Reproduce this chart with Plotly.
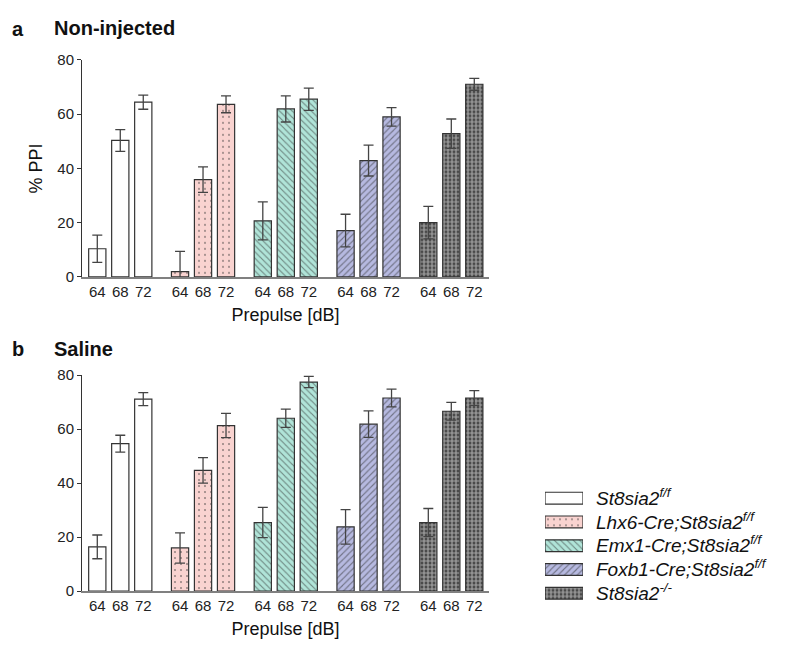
import plotly.graph_objects as go

# ---------------- data ----------------
genotypes = [
    "<i>St8sia2<sup>f/f</sup></i>",
    "<i>Lhx6-Cre;St8sia2<sup>f/f</sup></i>",
    "<i>Emx1-Cre;St8sia2<sup>f/f</sup></i>",
    "<i>Foxb1-Cre;St8sia2<sup>f/f</sup></i>",
    "<i>St8sia2<sup>-/-</sup></i>",
]
prepulse_db = ["64", "68", "72"]

noninjected_mean = [
    [10.4, 50.3, 64.4],
    [2.0, 35.9, 63.6],
    [20.7, 61.9, 65.5],
    [17.1, 42.9, 59.0],
    [20.0, 52.8, 71.0],
]
noninjected_sem = [
    [5.0, 4.0, 2.6],
    [7.4, 4.7, 3.1],
    [7.0, 4.8, 4.1],
    [6.0, 5.7, 3.4],
    [6.0, 5.4, 2.2],
]
saline_mean = [
    [16.4, 54.6, 71.1],
    [16.0, 44.7, 61.3],
    [25.4, 64.0, 77.4],
    [23.8, 61.8, 71.5],
    [25.4, 66.6, 71.5],
]
saline_sem = [
    [4.4, 3.1, 2.4],
    [5.6, 4.7, 4.5],
    [5.6, 3.4, 2.1],
    [6.4, 4.9, 3.3],
    [5.2, 3.3, 2.7],
]
y_ticks = [0, 20, 40, 60, 80]

# ---------------- styles ----------------
FONT = "Liberation Sans, Arial, sans-serif"
fills = ["#ffffff", "#f9d3d0", "#b0e4d8", "#b6b9e0", "#4a4a4a"]
patterns = [
    dict(shape=""),
    dict(shape=".", fgcolor="#333333", bgcolor="#f9d3d0", size=6, solidity=0.1),
    dict(shape="\\", fgcolor="#2a2a2a", bgcolor="#b0e4d8", size=4.5, solidity=0.25),
    dict(shape="/", fgcolor="#2a2a2a", bgcolor="#b6b9e0", size=4.5, solidity=0.25),
    dict(shape="+", fgcolor="#ffffff", bgcolor="#4a4a4a", size=4, solidity=0.5),
]
GROUP_STEP = 3.6
BAR_W = 0.75

# page is offset by the 8px body margin
OFF = 8
W, H = 787 - OFF, 654 - OFF
def px(xp):
    return (xp - OFF) / W
def py(yp):
    return 1 - (yp - OFF) / H


def make_marker(g):
    return dict(color=fills[g], line=dict(color="#333333", width=1.2), pattern=patterns[g])


fig = go.Figure()

panels = [
    (noninjected_mean, noninjected_sem, "x", "y"),
    (saline_mean, saline_sem, "x2", "y2"),
]
for means, sems, xa, ya in panels:
    for g, name in enumerate(genotypes):
        xs = [g * GROUP_STEP + i for i in range(len(prepulse_db))]
        fig.add_trace(go.Bar(
            x=xs, y=means[g], width=BAR_W,
            name=name, showlegend=False,
            xaxis=xa, yaxis=ya,
            marker=make_marker(g),
            error_y=dict(type="data", array=sems[g], visible=True,
                         color="#444444", thickness=1.3, width=5),
        ))

# legend drawn as swatches on a helper axis
for g, name in enumerate(genotypes):
    fig.add_trace(go.Bar(
        x=[1], y=[name], orientation="h", width=0.5, showlegend=False,
        xaxis="x3", yaxis="y3", marker=make_marker(g), hoverinfo="skip",
    ))

tickvals = [g * GROUP_STEP + i for g in range(len(genotypes)) for i in range(len(prepulse_db))]
ticktext = [prepulse_db[i] for g in range(len(genotypes)) for i in range(len(prepulse_db))]

x_dom = [px(82), px(489)]
top_dom = [py(275), py(52)]
bot_dom = [py(597.7), py(375.7)]

xaxis_common = dict(
    range=[-0.665, 17.04], tickvals=tickvals, ticktext=ticktext,
    showline=True, linecolor="#808080", linewidth=2, ticks="",
    showgrid=False, zeroline=False, tickfont=dict(size=15, color="#222222", family=FONT),
    title=dict(text="Prepulse [dB]", font=dict(size=18, color="#111111", family=FONT), standoff=9),
    domain=x_dom,
)
yaxis_common = dict(
    range=[0, 80], tickvals=y_ticks, showline=True, linecolor="#333333", linewidth=1,
    ticks="outside", ticklen=4, tickcolor="#333333", showgrid=False, zeroline=False,
    tickfont=dict(size=15, color="#222222", family=FONT),
)

fig.update_layout(
    width=W, height=H,
    margin=dict(l=0, r=0, t=0, b=0),
    paper_bgcolor="white", plot_bgcolor="white",
    font=dict(family=FONT, color="#111111"),
    barmode="overlay",
    showlegend=False,
    xaxis=dict(xaxis_common, anchor="y"),
    yaxis=dict(yaxis_common, domain=top_dom, anchor="x",
               title=dict(text="% PPI", font=dict(size=18, color="#111111", family=FONT), standoff=10)),
    xaxis2=dict(xaxis_common, anchor="y2"),
    yaxis2=dict(yaxis_common, domain=bot_dom, anchor="x2"),
    xaxis3=dict(domain=[px(545), px(583)], range=[0, 1], visible=False, anchor="y3",
                fixedrange=True),
    yaxis3=dict(domain=[py(612), py(490)], anchor="x3", side="right", type="category",
                autorange="reversed", showline=False, showgrid=False, zeroline=False,
                ticks="", ticklabelstandoff=12,
                tickfont=dict(size=19, color="#111111", family=FONT), fixedrange=True),
    annotations=[
        dict(text="<b>a</b>", x=px(10), y=py(20), xref="paper", yref="paper",
             xanchor="left", yanchor="middle", showarrow=False, font=dict(size=20, family=FONT)),
        dict(text="<b>Non-injected</b>", x=px(52), y=py(19), xref="paper", yref="paper",
             xanchor="left", yanchor="middle", showarrow=False, font=dict(size=20, family=FONT)),
        dict(text="<b>b</b>", x=px(10), y=py(349), xref="paper", yref="paper",
             xanchor="left", yanchor="middle", showarrow=False, font=dict(size=20, family=FONT)),
        dict(text="<b>Saline</b>", x=px(52), y=py(349), xref="paper", yref="paper",
             xanchor="left", yanchor="middle", showarrow=False, font=dict(size=20, family=FONT)),
    ],
)

fig.write_html("out.html")
